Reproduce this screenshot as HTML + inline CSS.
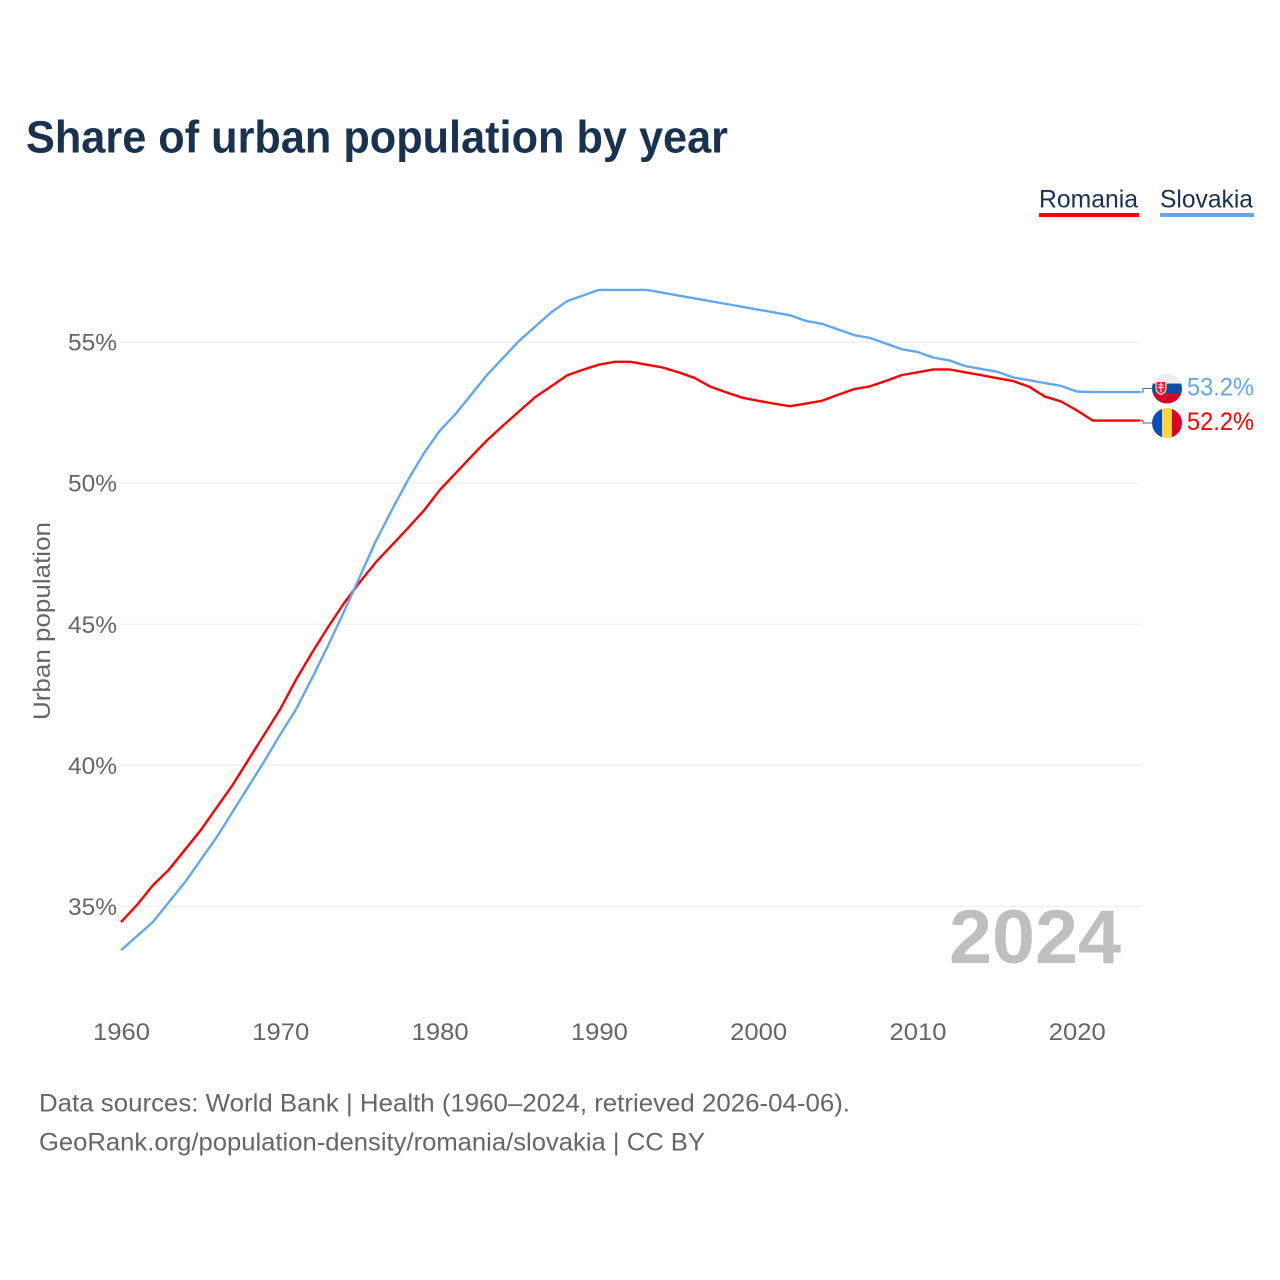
<!DOCTYPE html>
<html lang="en">
<head>
<meta charset="utf-8">
<title>Share of urban population by year</title>
<style>
html,body{margin:0;padding:0;background:#fff;width:1280px;height:1280px;overflow:hidden}
svg{display:block;font-family:"Liberation Sans",sans-serif}
</style>
</head>
<body>
<svg id="chart" xmlns="http://www.w3.org/2000/svg" width="1280" height="1280" viewBox="0 0 1280 1280">
  <defs>
    <clipPath id="flag-clip-sk"><circle cx="0" cy="0" r="15"/></clipPath>
    <clipPath id="flag-clip-ro"><circle cx="0" cy="0" r="15"/></clipPath>
  </defs>
  <text x="26" y="152.5" font-size="45" font-weight="700" fill="#18324f" textLength="702" lengthAdjust="spacingAndGlyphs">Share of urban population by year</text>

  <text x="1039" y="207.5" font-size="25" fill="#18324f" textLength="99" lengthAdjust="spacingAndGlyphs">Romania</text>
  <rect x="1039" y="213" width="100" height="4" fill="#ff0000"/>
  <text x="1160" y="207.5" font-size="25" fill="#18324f" textLength="93" lengthAdjust="spacingAndGlyphs">Slovakia</text>
  <rect x="1160" y="213" width="94" height="4" fill="#62a8ef"/>

  <text transform="translate(50,720) rotate(-90)" font-size="24" fill="#666" textLength="198" lengthAdjust="spacingAndGlyphs">Urban population</text>

  <g id="grid"></g>
  <g id="y-ticks"></g>
  <g id="x-ticks"></g>

  <text x="949" y="963" font-size="76" font-weight="700" fill="#bfbfbf" textLength="172" lengthAdjust="spacingAndGlyphs">2024</text>

  <g id="series"></g>

  <g id="flag-sk">
    <g clip-path="url(#flag-clip-sk)">
      <rect x="-15" y="-15" width="30" height="10" fill="#eeeeee"/>
      <rect x="-15" y="-5" width="30" height="10" fill="#0b4ea2"/>
      <rect x="-15" y="5" width="30" height="10" fill="#d80027"/>
      <path d="M-11-7H-1V0Q-1 4-6 6Q-11 4-11 0Z" fill="#ee1c25" stroke="#fff" stroke-width="1"/>
      <path d="M-6-6V4M-8.5-3.5H-3.5M-9-1H-3" stroke="#fff" stroke-width="1" fill="none"/>
    </g>
  </g>
  <g id="flag-ro">
    <g clip-path="url(#flag-clip-ro)">
      <rect x="-15" y="-15" width="10" height="30" fill="#0a4fb5"/>
      <rect x="-5" y="-15" width="10" height="30" fill="#ffd43a"/>
      <rect x="5" y="-15" width="10" height="30" fill="#d80027"/>
    </g>
  </g>

  <text x="39" y="1111.5" font-size="25" fill="#666" textLength="811" lengthAdjust="spacingAndGlyphs">Data sources: World Bank | Health (1960–2024, retrieved 2026-04-06).</text>
  <text x="39" y="1150.5" font-size="25" fill="#666" textLength="666" lengthAdjust="spacingAndGlyphs">GeoRank.org/population-density/romania/slovakia | CC BY</text>
</svg>
<script>
const startYear = 1960;
const yTickValues = [35, 40, 45, 50, 55];
const xTickYears = [1960, 1970, 1980, 1990, 2000, 2010, 2020];
const romaniaValues = [34.45,35.05,35.75,36.3,37,37.7,38.5,39.3,40.2,41.1,42,43.05,44,44.9,45.75,46.5,47.2,47.8,48.4,49.02,49.75,50.35,50.95,51.53,52.05,52.55,53.05,53.43,53.82,54.02,54.2,54.3,54.3,54.2,54.1,53.93,53.73,53.42,53.22,53.03,52.92,52.82,52.73,52.82,52.92,53.13,53.33,53.43,53.62,53.83,53.93,54.03,54.03,53.93,53.83,53.72,53.62,53.42,53.07,52.9,52.58,52.22,52.22,52.22,52.22];
const slovakiaValues = [33.45,33.95,34.45,35.15,35.85,36.65,37.45,38.35,39.25,40.15,41.1,42,43.1,44.25,45.45,46.7,47.95,49.05,50.1,51.05,51.85,52.45,53.15,53.85,54.45,55.05,55.55,56.05,56.45,56.65,56.85,56.85,56.85,56.85,56.75,56.65,56.55,56.45,56.35,56.25,56.15,56.05,55.95,55.75,55.65,55.45,55.25,55.15,54.95,54.75,54.65,54.45,54.35,54.15,54.05,53.95,53.75,53.65,53.55,53.45,53.25,53.23,53.23,53.23,53.23];

const NS = 'http://www.w3.org/2000/svg';
const xScale = year => 121 + (year - 1960) * 15.93;
const yScale = value => 906.5 - (value - 35) * 28.22;
const mk = (tag, parent, attrs) => {
  const el = document.createElementNS(NS, tag);
  for (const k in attrs) el.setAttribute(k, attrs[k]);
  parent.appendChild(el);
  return el;
};
const gridG = document.getElementById('grid');
const yG = document.getElementById('y-ticks');
const xG = document.getElementById('x-ticks');
const seriesG = document.getElementById('series');

yTickValues.forEach(v => {
  const line = mk('line', gridG, {x1: 120, x2: 1141, y1: yScale(v), y2: yScale(v), stroke: '#eeeeee', 'stroke-width': 1.2});
  
  
  const t = mk('text', yG, {x: 117, y: yScale(v) + 8.5, 'font-size': 24.5, fill: '#666', 'text-anchor': 'end', textLength: 49, lengthAdjust: 'spacingAndGlyphs'});
  
  
  t.textContent = v + '%';
});
xTickYears.forEach(yr => {
  const t = mk('text', xG, {x: xScale(yr) + 0.5, y: 1040, 'font-size': 24.5, fill: '#666', 'text-anchor': 'middle', textLength: 57, lengthAdjust: 'spacingAndGlyphs'});
  
  
  t.textContent = yr;
});

function drawSeries(values, color, offset, flagId, lineName, labelName, connectorName) {
  const pts = values.map((v, i) => xScale(startYear + i).toFixed(2) + ',' + yScale(v).toFixed(2));
  const line = mk('polyline', seriesG, {points: pts.join(' '), fill: 'none', stroke: color, 'stroke-width': 2.4, 'stroke-linejoin': 'round'});
  
  
  const last = values[values.length - 1];
  const ly = yScale(last);
  const fy = ly + offset;
  const conn = mk('path', seriesG, {d: `M1141 ${ly}H1143V${fy}H1153`, fill: 'none', stroke: '#666', 'stroke-width': 1});
  
  
  document.getElementById(flagId).setAttribute('transform', `translate(1167,${fy})`);
  const t = mk('text', seriesG, {x: 1187, y: fy + 7, 'font-size': 25, fill: color, textLength: 67, lengthAdjust: 'spacingAndGlyphs'});
  
  
  t.textContent = last.toFixed(1) + '%';
}
drawSeries(romaniaValues, '#ff0000', 2.5, 'flag-ro', 'romania-line', 'romania-end-value', 'romania-connector');
drawSeries(slovakiaValues, '#62a8ef', -3.5, 'flag-sk', 'slovakia-line', 'slovakia-end-value', 'slovakia-connector');
</script>
</body>
</html>
